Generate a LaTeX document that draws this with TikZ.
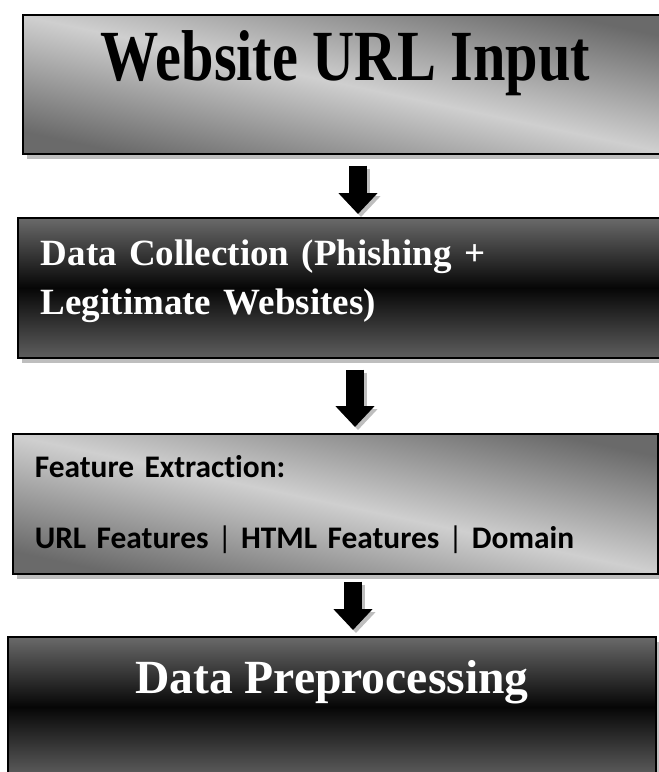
\documentclass[tikz,border=0pt]{standalone}
\usepackage{fontspec}
\setmainfont{Liberation Serif}
\newfontfamily\narrowserif[FakeStretch=0.81]{Liberation Serif}
\newfontfamily\calibrifont[Ligatures=NoCommon]{Carlito}
\usetikzlibrary{positioning,calc,shadows,arrows.meta}

\definecolor{lightgrey}{HTML}{CFCFCF}
\definecolor{darkgrey}{HTML}{6A6A6A}
\definecolor{topgrey}{HTML}{6A6A6A}
\definecolor{botgrey}{HTML}{5E5E5E}
\definecolor{nearblack}{HTML}{060606}
\definecolor{shadowgrey}{HTML}{BEBEBE}

\tikzset{
  stage/.style={rectangle, draw=black, line width=1.6pt, inner sep=0pt, anchor=north west,
    drop shadow={shadow xshift=4pt, shadow yshift=-5pt, fill=shadowgrey, opacity=1}},
  lightstage/.style={stage, top color=darkgrey, bottom color=darkgrey, middle color=lightgrey, shading angle=-12},
  darkstage/.style={stage, top color=topgrey, bottom color=botgrey, middle color=nearblack, text=white},
  tip/.style={-{Triangle[width=38pt,length=21pt]}},
  blockarrow/.style={line width=18pt, tip,
    preaction={draw=shadowgrey, line width=18pt, tip, transform canvas={shift={(3pt,-3pt)}}}}
}
\newcommand\sep{\kern9pt{\mdseries|}\kern9pt}

\begin{document}
\begin{tikzpicture}[x=1pt, y=-1pt]
 \useasboundingbox (0,0) rectangle (659,772);
 \clip (0,0) rectangle (659,772);
 % stages
 \node[lightstage, minimum width=645pt, minimum height=139pt, text height=30pt, text depth=37pt,
   font=\narrowserif\bfseries\fontsize{72}{80}\selectfont] (url) at (22,14) {Website URL Input};
 \node[darkstage, minimum width=650pt, minimum height=140pt, text width=604pt, inner xsep=23pt, align=left,
   text height=27pt, text depth=71pt,
   font=\bfseries\fontsize{37}{49}\selectfont] (collect) at (17,217) {Data Collection (Phishing +\\Legitimate Websites)};
 \node[lightstage, minimum width=645pt, minimum height=140pt, text width=601pt, inner xsep=22pt, align=left,
   text height=21pt, text depth=73pt,
   font=\calibrifont\bfseries\fontsize{31.4}{71}\selectfont] (feature) at (12,433)
   {Feature Extraction:\\URL Features\sep HTML Features\sep Domain};
 \node[darkstage, minimum width=648pt, minimum height=140pt, text height=30pt, text depth=56pt,
   font=\bfseries\fontsize{47.6}{56}\selectfont] (prep) at (7,636) {Data Preprocessing};
 % arrows
 \coordinate (a1) at (358,0);
 \coordinate (a2) at (355,0);
 \coordinate (a3) at (353,0);
 \draw[blockarrow] ($(url.south -| a1)+(0,11)$) -- ($(collect.north -| a1)-(0,3)$);
 \draw[blockarrow] ($(collect.south -| a2)+(0,11)$) -- ($(feature.north -| a2)-(0,6)$);
 \draw[blockarrow] ($(feature.south -| a3)+(0,7)$) -- ($(prep.north -| a3)-(0,6)$);
\end{tikzpicture}
\end{document}
